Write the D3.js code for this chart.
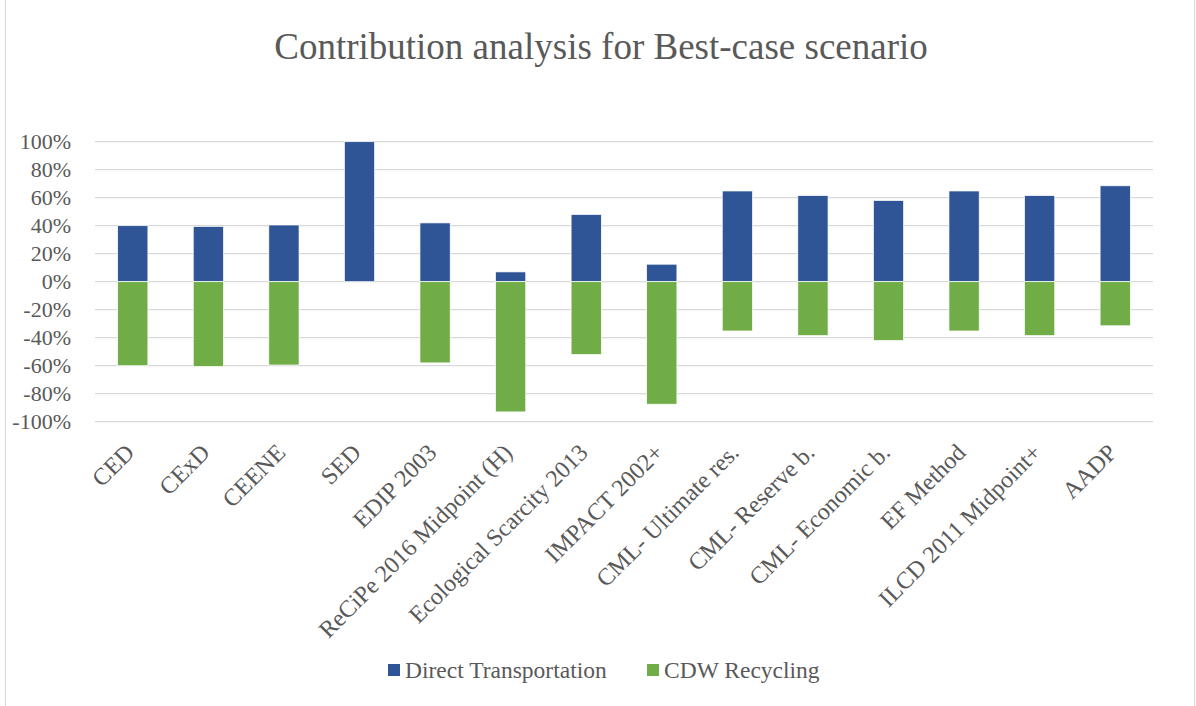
<!DOCTYPE html>
<html>
<head>
<meta charset="utf-8">
<script src="https://cdn.jsdelivr.net/npm/d3@7"></script>
<style>
  body { margin: 0; background: #fff; }
  text { font-family: "Liberation Serif", "Times New Roman", serif; fill: #595959; }
</style>
</head>
<body>
<div id="container"></div>
<script>
	var WIDTH = 1196;
	var HEIGHT = 706;

	var categories = ["CED", "CExD", "CEENE", "SED", "EDIP 2003", "ReCiPe 2016 Midpoint (H)",
		"Ecological Scarcity 2013", "IMPACT 2002+", "CML- Ultimate res.", "CML- Reserve b.",
		"CML- Economic b.", "EF Method", "ILCD 2011 Midpoint+", "AADP"];
	var directTransportation = [0.40, 0.395, 0.405, 1.00, 0.42, 0.07, 0.48, 0.125, 0.648, 0.615, 0.58, 0.648, 0.615, 0.685];
	var cdwRecycling = [-0.60, -0.605, -0.595, 0, -0.58, -0.93, -0.52, -0.875, -0.352, -0.385, -0.42, -0.352, -0.385, -0.315];
	var yTicks = [1, 0.8, 0.6, 0.4, 0.2, 0, -0.2, -0.4, -0.6, -0.8, -1];
	var seriesNames = ["Direct Transportation", "CDW Recycling"];
	var colors = ["#2F5597", "#70AD47"];

	var plot = {left: 95, right: 1153, top: 141.7, bottom: 421.7};

	var svg = d3.select('#container')
		.append('svg')
		.attr('width', WIDTH)
		.attr('height', HEIGHT);

	// chart area border
	svg.append('rect')
		.attr('x', 5.5).attr('y', -2)
		.attr('width', 1189).attr('height', 712)
		.style('fill', 'none').style('stroke', '#d9d9d9');

	svg.append('text')
		.attr('x', 601).attr('y', 59)
		.attr('text-anchor', 'middle')
		.style('font-size', '37px')
		.text('Contribution analysis for Best-case scenario');

	var x = d3.scaleBand()
		.domain(categories)
		.range([plot.left, plot.right])
		.paddingInner(0.6)
		.paddingOuter(0.3);

	var y = d3.scaleLinear()
		.domain([-1, 1])
		.range([plot.bottom, plot.top]);

	// gridlines
	svg.selectAll('.grid')
		.data(yTicks)
		.enter().append('line')
		.attr('x1', plot.left).attr('x2', plot.right)
		.attr('y1', function(d){return y(d)})
		.attr('y2', function(d){return y(d)})
		.style('stroke', '#d9d9d9')
		.style('stroke-width', 1.3);

	// y labels
	svg.selectAll('.ylab')
		.data(yTicks)
		.enter().append('text')
		.attr('x', 71)
		.attr('y', function(d){return y(d) + 7})
		.attr('text-anchor', 'end')
		.style('font-size', '22px')
		.text(function(d){return d3.format('.0%')(d).replace('−', '-')});

	var series = [directTransportation, cdwRecycling];
	series.forEach(function(vals, s){
		svg.selectAll('.bar' + s)
			.data(vals)
			.enter().append('rect')
			.attr('x', function(d,i){return x(categories[i])})
			.attr('width', x.bandwidth())
			.attr('y', function(d){return Math.min(y(d), y(0))})
			.attr('height', function(d){return Math.abs(y(d) - y(0))})
			.style('fill', colors[s])
			.style('stroke', '#fff')
			.style('stroke-width', 0.7);
	});

	// x labels
	svg.selectAll('.xlab')
		.data(categories)
		.enter().append('text')
		.attr('text-anchor', 'end')
		.attr('transform', function(d){
			var cx = x(d) + x.bandwidth()/2 + 3;
			return 'translate(' + cx + ',' + 454 + ') rotate(-45)';
		})
		.style('font-size', '24px')
		.text(function(d){return d});

	// legend
	var legendX = [388, 647];
	seriesNames.forEach(function(name, i){
		svg.append('rect')
			.attr('x', legendX[i]).attr('y', 664)
			.attr('width', 12).attr('height', 12)
			.style('fill', colors[i]);
		svg.append('text')
			.attr('x', legendX[i] + 17).attr('y', 678)
			.style('font-size', '23.5px')
			.text(name);
	});
</script>
</body>
</html>
